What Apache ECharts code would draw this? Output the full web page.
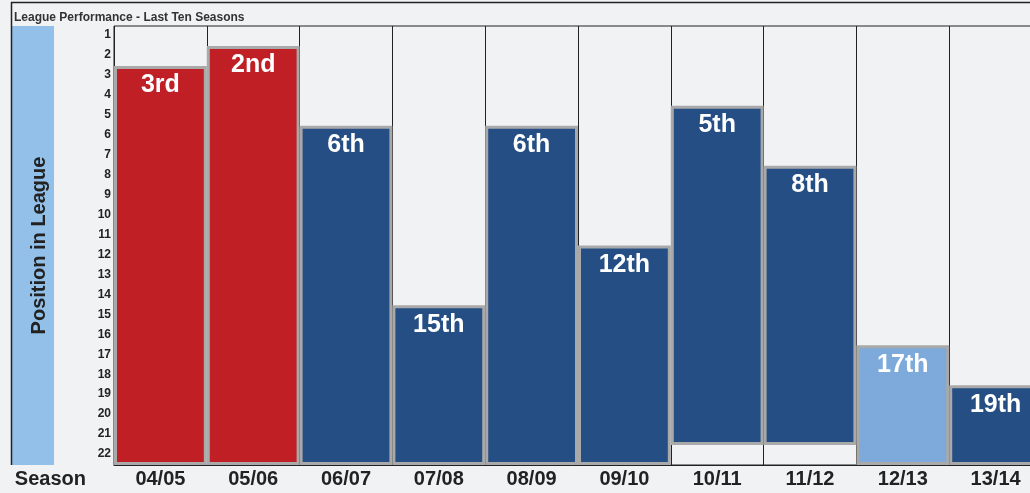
<!DOCTYPE html>
<html><head><meta charset="utf-8">
<script src="https://cdn.jsdelivr.net/npm/echarts@6/dist/echarts.min.js"></script>
<style>html,body{margin:0;padding:0;background:#f1f2f4;}#c{width:1030px;height:493px;}</style>
</head><body><div id="c"></div>
<script>
const seasons = ['04/05','05/06','06/07','07/08','08/09','09/10','10/11','11/12','12/13','13/14'];
const positions = [3, 2, 6, 15, 6, 12, 5, 8, 17, 19];
const barBottoms = [23, 23, 23, 23, 23, 23, 22, 22, 23, 23];
const positionTicks = [1,2,3,4,5,6,7,8,9,10,11,12,13,14,15,16,17,18,19,20,21,22];

const RED = '#c01f26', DARK = '#254f84', LIGHT = '#7eaadb';
const barColors = [RED, RED, DARK, DARK, DARK, DARK, DARK, DARK, LIGHT, DARK];
const F = "'Liberation Sans', Arial, Helvetica, sans-serif";

function ordinal(n){
  const s = n % 100;
  if (s >= 11 && s <= 13) return n + 'th';
  switch (n % 10){ case 1: return n+'st'; case 2: return n+'nd'; case 3: return n+'rd'; default: return n+'th'; }
}

const chart = echarts.init(document.getElementById('c'), null, {renderer:'canvas'});
chart.setOption({
  backgroundColor: '#f1f2f4',
  animation: false,
  textStyle: {fontFamily: F},
  title: {
    text: 'League Performance - Last Ten Seasons',
    left: 14, top: 12, padding: 0,
    textStyle: {fontSize: 12, fontWeight: 'bold', color: '#333', fontFamily: F}
  },
  grid: {
    left: 114, top: 26, width: 928, height: 439,
    show: true, borderColor: '#222', borderWidth: 1, backgroundColor: 'transparent',
    outerBoundsMode: 'none'
  },
  xAxis: {
    type: 'category', data: seasons, boundaryGap: true,
    axisLine: {show: true, lineStyle: {color: '#222', width: 1}},
    axisTick: {show: false},
    axisLabel: {interval: 0, margin: 4, fontSize: 20, fontWeight: 'bold', color: '#222', fontFamily: F},
    splitLine: {show: true, interval: 0, lineStyle: {color: '#222', width: 1}},
    name: 'Season', nameLocation: 'start', nameGap: 28,
    nameTextStyle: {fontSize: 20, fontWeight: 'bold', color: '#222', fontFamily: F, verticalAlign: 'top', padding: [4,0,0,0]}
  },
  yAxis: {
    type: 'value', inverse: true, min: 1, max: 23,
    axisLine: {show: false}, axisTick: {show: false}, splitLine: {show: false},
    axisLabel: {
      customValues: positionTicks, margin: 3,
      fontSize: 12, fontWeight: 'bold', color: '#222', fontFamily: F,
      verticalAlign: 'top', lineHeight: 18
    },
    name: 'Position in League', nameLocation: 'middle', nameRotate: 90, nameGap: 65,
    nameTextStyle: {fontSize: 20, fontWeight: 'bold', color: '#222', fontFamily: F}
  },
  series: [
    {
      type: 'bar', stack: 'pos', data: positions, silent: true,
      barCategoryGap: 0, itemStyle: {color: 'rgba(0,0,0,0)'}
    },
    {
      type: 'bar', stack: 'pos', barCategoryGap: 0,
      data: positions.map((p, i) => ({value: barBottoms[i] - p, itemStyle: {color: barColors[i]}})),
      itemStyle: {borderColor: '#a9a9a9', borderWidth: 3},
      label: {
        show: true, position: 'insideTop', distance: 7,
        formatter: prm => ordinal(positions[prm.dataIndex]),
        color: '#fff', fontSize: 25, fontWeight: 'bold', fontFamily: F
      }
    }
  ],
  graphic: [
    {type: 'rect', z: -1, shape: {x: 12, y: 26, width: 42, height: 439}, style: {fill: '#92c0e8'}},
    {type: 'line', shape: {x1: 11, y1: 2.5, x2: 1030, y2: 2.5}, style: {stroke: '#222', lineWidth: 1.5}},
    {type: 'line', shape: {x1: 11.5, y1: 2, x2: 11.5, y2: 465}, style: {stroke: '#222', lineWidth: 1.5}}
  ]
});
</script></body></html>
